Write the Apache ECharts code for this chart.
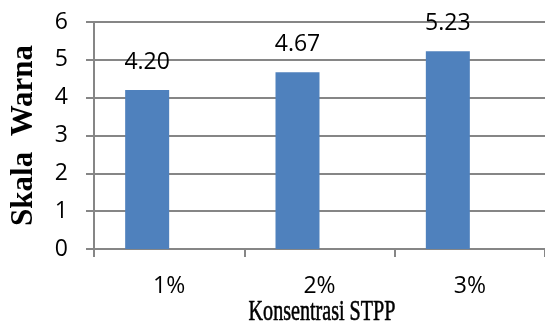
<!DOCTYPE html>
<html>
<head>
<meta charset="utf-8">
<style>
  html, body { margin: 0; padding: 0; background: #fff; }
  #chart { width: 545px; height: 328px; }
</style>
<script src="https://cdn.jsdelivr.net/npm/echarts@6/dist/echarts.min.js"></script>
</head>
<body>
<div id="chart"></div>
<script>
// Colour scale score per STPP concentration
const categories = ['1%', '2%', '3%'];
const skalaWarna = [4.20, 4.67, 5.23];
const yTicks = [0, 1, 2, 3, 4, 5, 6];

const gridColor = '#868686';
const chart = echarts.init(document.getElementById('chart'), null, { renderer: 'canvas' });

chart.setOption({
  animation: false,
  backgroundColor: '#ffffff',
  grid: { left: 88, right: 0, top: 22, bottom: 79, containLabel: false },
  xAxis: {
    type: 'category',
    data: categories,
    boundaryGap: true,
    axisLine: { show: true, lineStyle: { color: gridColor, width: 2 } },
    axisTick: { show: true, alignWithLabel: false, length: 8, lineStyle: { color: gridColor, width: 2 } },
    axisLabel: { margin: 26, color: '#000', fontFamily: 'Open Sans', fontSize: 23 },
    splitLine: { show: false }
  },
  yAxis: {
    type: 'value',
    min: yTicks[0],
    max: yTicks[yTicks.length - 1],
    interval: 1,
    name: 'Skala  Warna',
    nameLocation: 'middle',
    nameRotate: 90,
    nameGap: 55,
    nameTextStyle: { fontFamily: 'Liberation Serif', fontWeight: 'bold', fontSize: 31, color: '#000' },
    axisLine: { show: true, lineStyle: { color: gridColor, width: 2 } },
    axisTick: { show: true, inside: false, length: 8, lineStyle: { color: gridColor, width: 2 } },
    axisLabel: { margin: 26, color: '#000', fontFamily: 'Open Sans', fontSize: 23 },
    splitLine: { show: true, lineStyle: { color: gridColor, width: 2 } }
  },
  graphic: [{
    type: 'text',
    x: 322,
    y: 312,
    scaleX: 0.67,
    style: {
      text: 'Konsentrasi STPP',
      font: '30px "Liberation Serif"',
      fill: '#000',
      stroke: '#000',
      lineWidth: 0.6,
      textAlign: 'center',
      textVerticalAlign: 'middle'
    }
  }],
  series: [
    {
      type: 'bar',
      data: skalaWarna,
      barWidth: 44,
      barGap: '0%',
      itemStyle: { color: '#4f81bd' },
      label: {
        show: true,
        position: 'top',
        distance: 16,
        color: '#000',
        fontFamily: 'Open Sans',
        fontSize: 23,
        formatter: p => p.value.toFixed(2)
      }
    },
    {
      type: 'bar',
      data: categories.map(() => null),
      barWidth: 44,
      barGap: '0%',
      itemStyle: { color: '#c0504d' }
    }
  ]
});
</script>
</body>
</html>
